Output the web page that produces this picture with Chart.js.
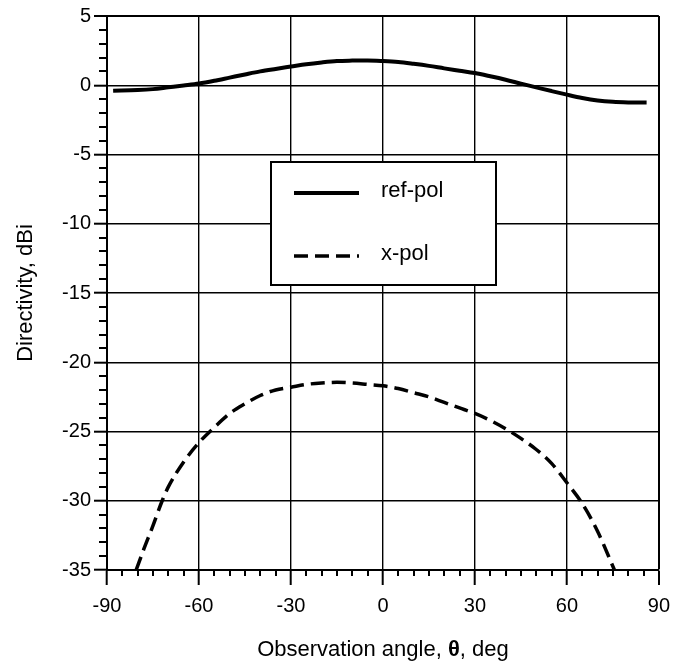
<!DOCTYPE html>
<html>
<head>
<meta charset="utf-8">
<script src="https://cdn.jsdelivr.net/npm/chart.js@4.4.1/dist/chart.umd.min.js"></script>
<style>
  html, body { margin: 0; padding: 0; background: #fff; }
  #wrap { width: 679px; height: 666px; }
</style>
</head>
<body>
<div id="wrap"><canvas id="dirChart" width="679" height="666"></canvas></div>
<script>
// --- DATA ---
const refAngles = [-88, -80, -75, -70, -65, -60, -55, -50, -45, -40, -35, -30, -25, -20, -15, -10, -5, 0,
                   5, 10, 15, 20, 25, 30, 35, 40, 45, 50, 55, 60, 65, 70, 75, 80, 86];
const refPol = [-0.4, -0.35, -0.28, -0.15, -0.02, 0.12, 0.32, 0.55, 0.78, 1.0, 1.18, 1.35, 1.52, 1.65, 1.75, 1.78, 1.79, 1.75,
                1.68, 1.55, 1.4, 1.22, 1.05, 0.88, 0.65, 0.4, 0.12, -0.15, -0.42, -0.68, -0.92, -1.1, -1.2, -1.24, -1.25];

const xAngles = [-80.5, -78, -75, -72, -70, -65, -60, -55, -50, -45, -40, -35, -30, -25, -20, -15, -10, -5, 0,
                 5, 10, 15, 20, 25, 30, 35, 40, 45, 50, 55, 60, 65, 70, 75.5];
const xPol = [-35, -33.5, -31.8, -30, -29, -27.2, -25.8, -24.7, -23.7, -23, -22.4, -22, -21.8, -21.6, -21.5, -21.45, -21.5, -21.6, -21.7,
              -21.9, -22.2, -22.5, -22.9, -23.3, -23.7, -24.2, -24.8, -25.5, -26.3, -27.3, -28.7, -30.2, -32.2, -35];

const xTicks = [-90, -60, -30, 0, 30, 60, 90];
const yTicks = [-35, -30, -25, -20, -15, -10, -5, 0, 5];
const seriesNames = ['ref-pol', 'x-pol'];

const FONT = '"Liberation Sans", Arial, Helvetica, sans-serif';

// --- HELPERS ---
function toPoints(xs, ys) {
    return xs.map((x, i) => ({ x: x, y: ys[i] }));
}

// minor ticks (outward) every 5 deg on x and every 1 dB on y
const minorTicksPlugin = {
    id: 'minorTicks',
    afterDraw(chart) {
        const { ctx, scales: { x, y }, chartArea } = chart;
        ctx.save();
        ctx.strokeStyle = '#000';
        ctx.lineWidth = 2;
        ctx.beginPath();
        for (let v = xTicks[0]; v <= xTicks[xTicks.length - 1]; v += 5) {
            if (v % 30 === 0) continue;
            const px = Math.round(x.getPixelForValue(v));
            ctx.moveTo(px, chartArea.bottom);
            ctx.lineTo(px, chartArea.bottom + 6);
        }
        for (let v = yTicks[0]; v <= yTicks[yTicks.length - 1]; v += 1) {
            if (v % 5 === 0) continue;
            const py = Math.round(y.getPixelForValue(v));
            ctx.moveTo(chartArea.left, py);
            ctx.lineTo(chartArea.left - 8, py);
        }
        ctx.stroke();
        ctx.restore();
    }
};

// boxed legend inside the plot + axis titles (theta in bold)
const legendTitlesPlugin = {
    id: 'legendTitles',
    afterDatasetsDraw(chart) {
        const { ctx, scales: { x } } = chart;
        const bx = Math.round(x.getPixelForValue(-36.5)), by = 162;
        const bw = Math.round(x.getPixelForValue(37)) - bx, bh = 123;
        ctx.save();
        ctx.fillStyle = '#fff';
        ctx.fillRect(bx, by, bw, bh);
        ctx.strokeStyle = '#000';
        ctx.lineWidth = 2;
        ctx.strokeRect(bx, by, bw, bh);

        chart.data.datasets.forEach((ds, i) => {
            const ly = by + 31 + i * 63;
            ctx.beginPath();
            ctx.lineWidth = ds.borderWidth;
            ctx.setLineDash(ds.borderDash || []);
            ctx.strokeStyle = ds.borderColor;
            ctx.moveTo(bx + 23, ly);
            ctx.lineTo(bx + 88, ly);
            ctx.stroke();
            ctx.setLineDash([]);
            ctx.fillStyle = '#000';
            ctx.font = '22px ' + FONT;
            ctx.textAlign = 'left';
            ctx.textBaseline = 'alphabetic';
            ctx.fillText(ds.label, bx + 110, ly + 4);
        });
        ctx.restore();
    },
    afterDraw(chart) {
        const { ctx, chartArea } = chart;
        ctx.save();
        ctx.fillStyle = '#000';
        ctx.textBaseline = 'alphabetic';

        // x title: "Observation angle, θ, deg"
        const parts = [
            { t: 'Observation angle, ', f: '22px ' + FONT },
            { t: 'θ', f: 'bold 22px ' + FONT },
            { t: ', deg', f: '22px ' + FONT }
        ];
        let total = 0;
        parts.forEach(p => { ctx.font = p.f; p.w = ctx.measureText(p.t).width; total += p.w; });
        let cx = (chartArea.left + chartArea.right) / 2 - total / 2;
        ctx.textAlign = 'left';
        parts.forEach(p => { ctx.font = p.f; ctx.fillText(p.t, cx, 656); cx += p.w; });

        // y title
        ctx.translate(32, (chartArea.top + chartArea.bottom) / 2);
        ctx.rotate(-Math.PI / 2);
        ctx.textAlign = 'center';
        ctx.font = '22px ' + FONT;
        ctx.fillText('Directivity, dBi', 0, 0);
        ctx.restore();
    }
};

// --- CHART ---
new Chart(document.getElementById('dirChart'), {
    type: 'line',
    data: {
        datasets: [
            {
                label: seriesNames[0],
                data: toPoints(refAngles, refPol),
                borderColor: '#000',
                borderWidth: 4,
                pointRadius: 0,
                cubicInterpolationMode: 'monotone',
                fill: false
            },
            {
                label: seriesNames[1],
                data: toPoints(xAngles, xPol),
                borderColor: '#000',
                borderWidth: 3.5,
                borderDash: [14, 7],
                pointRadius: 0,
                cubicInterpolationMode: 'monotone',
                fill: false
            }
        ]
    },
    options: {
        responsive: false,
        animation: false,
        layout: { padding: { top: 16, right: 17, left: 0, bottom: 0 } },
        plugins: { legend: { display: false }, tooltip: { enabled: false } },
        scales: {
            x: {
                type: 'linear',
                min: xTicks[0],
                max: xTicks[xTicks.length - 1],
                afterFit: s => { s.height = 96; },
                afterBuildTicks: s => { s.ticks = xTicks.map(v => ({ value: v })); },
                grid: {
                    color: '#000',
                    lineWidth: c => (c.tick && c.tick.value === 90 ? 2 : 1.4),
                    tickLength: 15,
                    tickColor: '#000',
                    tickWidth: 2
                },
                border: { color: '#000', width: 2 },
                ticks: {
                    color: '#000',
                    padding: 9,
                    maxRotation: 0,
                    font: { family: FONT, size: 20 }
                }
            },
            y: {
                type: 'linear',
                min: yTicks[0],
                max: yTicks[yTicks.length - 1],
                afterFit: s => { s.width = 107; },
                afterBuildTicks: s => { s.ticks = yTicks.map(v => ({ value: v })); },
                grid: {
                    color: '#000',
                    lineWidth: c => (c.tick && c.tick.value === 5 ? 2 : 1.4),
                    tickLength: 13,
                    tickColor: '#000',
                    tickWidth: 2
                },
                border: { color: '#000', width: 2 },
                ticks: {
                    color: '#000',
                    padding: 3,
                    font: { family: FONT, size: 20 }
                }
            }
        }
    },
    plugins: [minorTicksPlugin, legendTitlesPlugin]
});
</script>
</body>
</html>
